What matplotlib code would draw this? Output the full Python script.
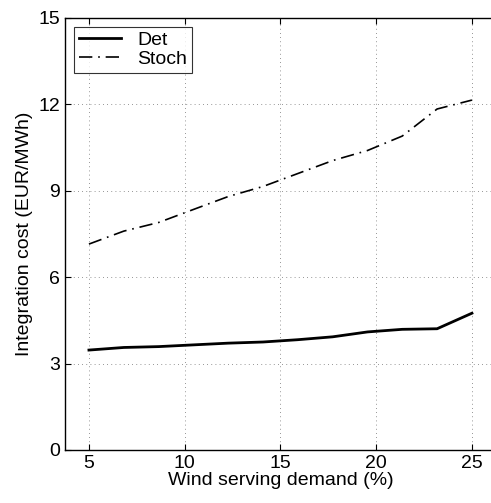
import numpy as np
import matplotlib.pyplot as plt

plt.rcParams['font.family'] = ['Liberation Sans', 'DejaVu Sans']

# wind share of demand (%) and integration cost (EUR/MWh)
share = [5.0, 6.82, 8.64, 10.45, 12.27, 14.09, 15.91, 17.73, 19.55, 21.36, 23.18, 25.0]
cost_det = [3.47, 3.56, 3.59, 3.65, 3.71, 3.75, 3.83, 3.93, 4.10, 4.19, 4.21, 4.75]
cost_stoch = [7.15, 7.60, 7.90, 8.35, 8.80, 9.15, 9.60, 10.05, 10.40, 10.90, 11.84, 12.15]

fig = plt.figure(figsize=(4.91, 5.03), dpi=100)
ax = fig.add_axes([65/491, 1 - 450/503, 0.88, 432/503])

ax.plot(share, cost_det, '-', color='black', lw=2.0, label='Det')
ax.plot(share, cost_stoch, color='black', lw=1.2, dashes=[8, 3.5, 1, 3.5], label='Stoch')

# x range chosen so the plot box runs off the right edge
ax.set_xlim(3.75, 3.75 + 0.88 * 491 / 19.15)
ax.set_ylim(0, 15)
ax.set_xticks([5, 10, 15, 20, 25])
ax.set_yticks([0, 3, 6, 9, 12, 15])
ax.grid(True, ls=(0, (1, 4)), color='0.45', lw=0.6)
ax.tick_params(direction='in', top=True, right=False, length=4, labelsize=14, width=0.8)
ax.spines['right'].set_visible(False)
for s in ax.spines.values():
    s.set_linewidth(1.0)

ax.set_xlabel('Wind serving demand (%)', fontsize=14, labelpad=0)
ax.set_ylabel('Integration cost (EUR/MWh)', fontsize=14, labelpad=4)

leg = ax.legend(loc='upper left', fontsize=14, frameon=True, fancybox=False,
                edgecolor='black', handlelength=2.2, borderpad=0.25,
                labelspacing=0.05, borderaxespad=0.45)
leg.get_frame().set_linewidth(0.8)

fig.savefig('out.png', dpi=100)
